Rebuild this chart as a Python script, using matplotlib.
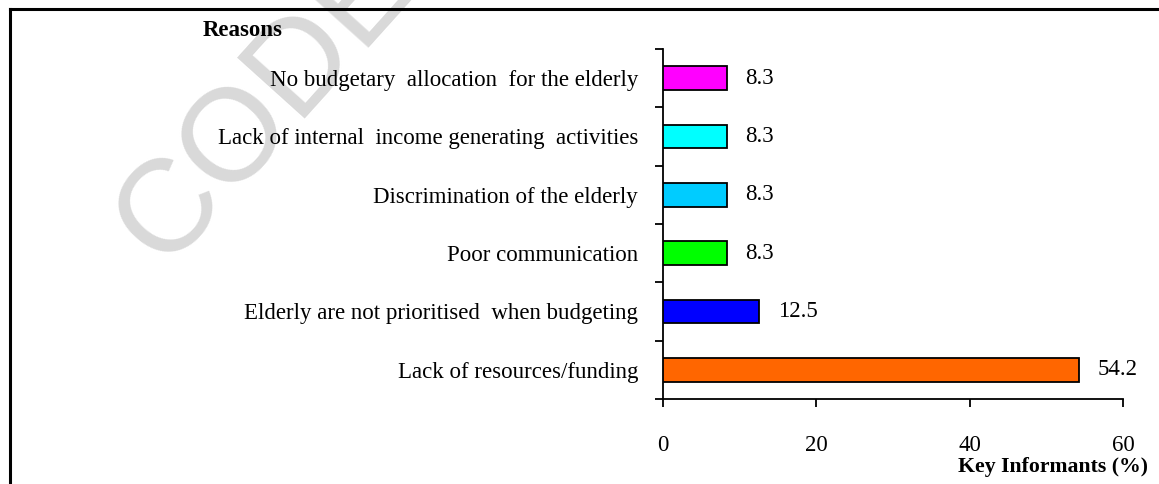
import matplotlib
matplotlib.use("Agg")
import matplotlib.pyplot as plt
from matplotlib.lines import Line2D

plt.rcParams["font.family"] = ["Liberation Serif", "DejaVu Serif"]

reasons = [
    "Lack of resources/funding",
    "Elderly are not prioritised  when budgeting",
    "Poor communication",
    "Discrimination of the elderly",
    "Lack of internal  income generating  activities",
    "No budgetary  allocation  for the elderly",
]
percent = [54.2, 12.5, 8.3, 8.3, 8.3, 8.3]
bar_colors = ["#FF6600", "#0000FF", "#00FF00", "#00CCFF", "#00FFFF", "#FF00FF"]
x_ticks = [0, 20, 40, 60]

W, H = 1159, 484
FS = 16.5
fig = plt.figure(figsize=(W / 100, H / 100), dpi=100)
fig.patch.set_facecolor("white")

# watermark behind everything
fig.text(164 / W, 1 - 268 / H, "CODESRIA", fontsize=95, color="#d9d9d9",
         family="Liberation Sans", rotation=48, rotation_mode="anchor",
         ha="left", va="baseline", zorder=-10)

ax = fig.add_axes([663 / W, 1 - 399 / H, (1123 - 663) / W, (399 - 49) / H])
ax.set_zorder(1)
ax.patch.set_alpha(0)

ypos = list(range(len(reasons)))
ax.barh(ypos, percent, height=0.41, color=bar_colors, edgecolor="black",
        linewidth=1.3, zorder=3)

for y, v in zip(ypos, percent):
    ax.annotate(f"{v:.1f}", (v, y), xytext=(13.5, 0), textcoords="offset points",
                va="center", ha="left", fontsize=FS)

ax.set_xlim(0, 60)
ax.set_ylim(-0.5, len(reasons) - 0.5)

ax.set_xticks(x_ticks)
ax.set_xticklabels([str(t) for t in x_ticks], fontsize=FS)
ax.tick_params(axis="x", direction="out", length=6, width=1.3, pad=20)

# category boundary ticks, labels at category centres
ax.set_yticks([i - 0.5 for i in range(len(reasons) + 1)])
ax.set_yticklabels([])
ax.set_yticks(ypos, minor=True)
ax.set_yticklabels(reasons, minor=True, fontsize=FS)
ax.tick_params(axis="y", which="major", direction="out", length=6, width=1.3)
ax.tick_params(axis="y", which="minor", length=0, pad=18)

for s in ["top", "right"]:
    ax.spines[s].set_visible(False)
for s in ["left", "bottom"]:
    ax.spines[s].set_linewidth(1.3)

fig.text(203 / W, 1 - 30 / H, "Reasons", fontsize=16.5, fontweight="bold",
         ha="left", va="center", zorder=2)
fig.text(1148 / W, 1 - 467 / H, "Key Informants (%)", fontsize=15.7,
         fontweight="bold", ha="right", va="center", zorder=2)

# outer frame (left and top edges)
fig.add_artist(Line2D([10 / W, 10 / W], [0, 1 - 9 / H], transform=fig.transFigure,
                      color="black", linewidth=2.2, zorder=2))
fig.add_artist(Line2D([10 / W, 1], [1 - 9 / H, 1 - 9 / H], transform=fig.transFigure,
                      color="black", linewidth=2.2, zorder=2))

fig.savefig("out.png", dpi=100, facecolor="white")
